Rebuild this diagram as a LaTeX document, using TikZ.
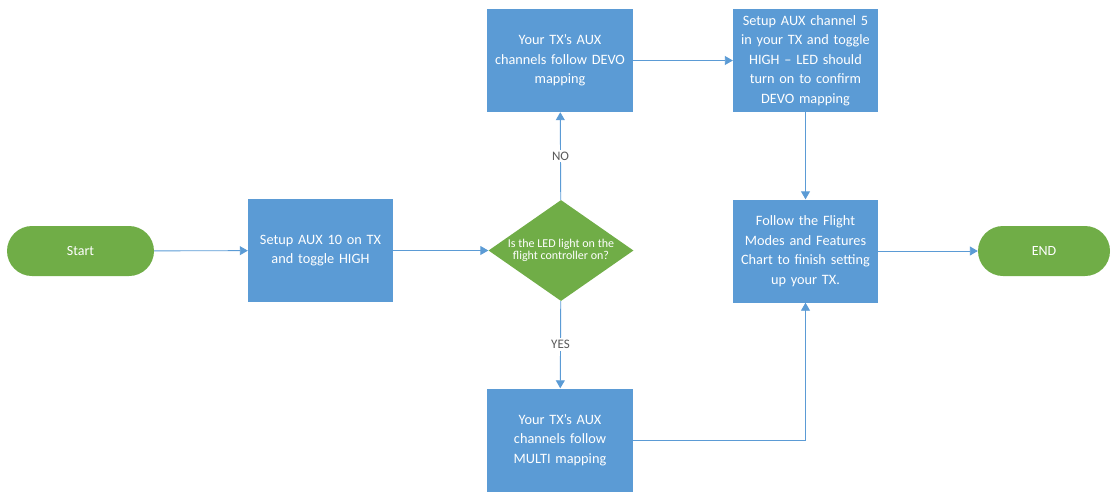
\documentclass[tikz,border=0pt]{standalone}
\usepackage{fontspec}
\setmainfont{Carlito}
\usetikzlibrary{shapes.geometric,arrows.meta}
\definecolor{boxblue}{HTML}{5B9BD5}
\definecolor{termgreen}{HTML}{70AD47}
\definecolor{linecol}{HTML}{5B9BD5}
\definecolor{labgray}{HTML}{595959}
\tikzset{
  procbox/.style={rectangle, fill=boxblue, text=white, minimum width=145pt, minimum height=103pt, align=center, inner sep=0pt, text width=144pt, font=\fontsize{14.3}{19.5}\selectfont},
  term/.style={rectangle, rounded corners=25pt, fill=termgreen, text=white, minimum height=50pt, font=\fontsize{14}{15}\selectfont},
  decision/.style={diamond, fill=termgreen, text=white, minimum width=145pt, minimum height=101pt, aspect=1.43, inner sep=0pt, align=center, font=\fontsize{12}{12.5}\selectfont},
  conn/.style={draw=linecol, line width=0.9pt, -{Triangle[width=9pt,length=8pt]}},
  lab/.style={fill=white, text=labgray, font=\fontsize{13}{14}\selectfont, inner sep=2pt}
}
\begin{document}
\begin{tikzpicture}[x=1pt,y=-1pt]
\useasboundingbox (0,0) rectangle (1113,491);
\node[term, minimum width=147pt] (start) at (80.5,251) {Start};
\node[procbox] (aux10) at (320.5,250.5) {Setup AUX 10 on TX\\and toggle HIGH};
\node[decision] (dec) at (561,250.5) {Is the LED light on the\\flight controller on?};
\node[procbox, minimum width=146pt] (devo) at (560,60.5) {Your TX's AUX\\channels follow DEVO\\mapping};
\node[procbox] (aux5) at (805.5,60.5) {Setup AUX channel 5\\in your TX and toggle\\HIGH -- LED should\\turn on to confirm\\DEVO mapping};
\node[procbox] (follow) at (805.5,251) {Follow the Flight\\Modes and Features\\Chart to finish setting\\up your TX.};
\node[term, minimum width=132pt] (end) at (1044,251) {END};
\node[procbox, minimum width=146pt] (multi) at (560,440) {Your TX's AUX\\channels follow\\MULTI mapping};
\draw[conn] (start) -- (aux10);
\draw[conn] (aux10) -- (dec);
\draw[conn] (dec) -- node[lab] {NO} (devo);
\draw[conn] (dec) -- node[lab] {YES} (multi);
\draw[conn] (devo) -- (aux5);
\draw[conn] (aux5) -- (follow);
\draw[conn] (follow) -- (end);
\draw[conn] (multi.east) -| (follow.south);
\end{tikzpicture}
\end{document}
